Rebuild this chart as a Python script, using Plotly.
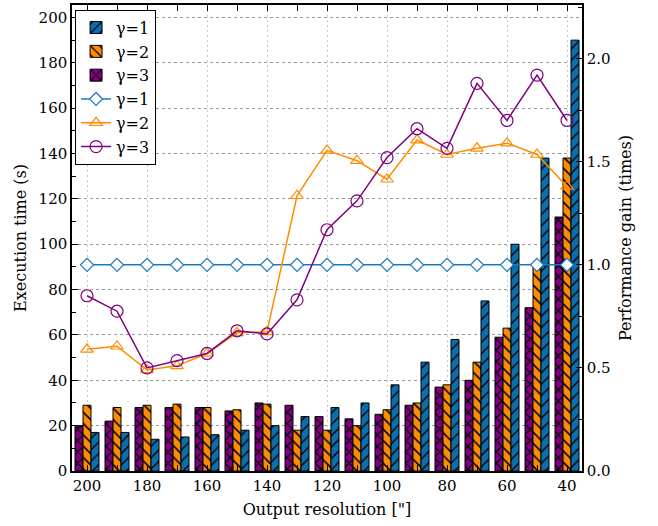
import plotly.graph_objects as go

# Output resolution categories (arcsec), left to right
resolutions = [200, 190, 180, 170, 160, 150, 140, 130, 120, 110, 100, 90, 80, 70, 60, 50, 40]

# Execution time (s)
time_g1 = [17, 17, 14, 15, 16, 18, 20, 24, 28, 30, 38, 48, 58, 75, 100, 138, 190]
time_g2 = [29, 28, 29, 29.5, 28, 27, 29.5, 18, 18, 20, 27, 30, 38, 48, 63, 90, 138]
time_g3 = [20, 22, 28, 28, 28, 26.5, 30, 29, 24, 23, 25, 29, 37, 40, 59, 72, 112]

# Performance gain (times)
gain_g1 = [1.0] * 17
gain_g2 = [0.59, 0.605, 0.49, 0.51, 0.57, 0.67, 0.675, 1.335, 1.555, 1.505, 1.415,
           1.605, 1.535, 1.565, 1.59, 1.535, 1.38]
gain_g3 = [0.85, 0.775, 0.50, 0.535, 0.57, 0.68, 0.665, 0.83, 1.17, 1.31, 1.52,
           1.66, 1.565, 1.88, 1.70, 1.92, 1.70]

BLUE = "#0b6fae"
ORANGE = "#ff8c00"
PURPLE = "#800080"
LINE_BLUE = "#1a7ac0"
FONT = "DejaVu Serif"

x = list(range(len(resolutions)))

fig = go.Figure()


def bar(vals, name, color, shape, rank, solidity):
    return go.Bar(
        x=x, y=vals, name=name, legendrank=rank,
        marker=dict(color=color, line=dict(color="black", width=1),
                    pattern=dict(shape=shape, fgcolor="black", bgcolor=color,
                                 fillmode="replace",
                                 size=8, solidity=solidity)),
        yaxis="y",
    )


# bars within a group: γ=3, γ=2, γ=1 from left to right
fig.add_trace(bar(time_g3, "γ=3", PURPLE, "x", 3, 0.28))
fig.add_trace(bar(time_g2, "γ=2", ORANGE, "\\", 2, 0.2))
fig.add_trace(bar(time_g1, "γ=1", BLUE, "/", 1, 0.18))

fig.add_trace(go.Scatter(
    x=x, y=gain_g1, name="γ=1", legendrank=4, yaxis="y2", mode="lines+markers",
    line=dict(color=LINE_BLUE, width=1.5),
    marker=dict(symbol="diamond", size=10, color="white",
                line=dict(color=LINE_BLUE, width=1.2)),
))
fig.add_trace(go.Scatter(
    x=x, y=gain_g2, name="γ=2", legendrank=5, yaxis="y2", mode="lines+markers",
    line=dict(color=ORANGE, width=1.5),
    marker=dict(symbol="triangle-up-open", size=11,
                line=dict(color=ORANGE, width=1.2)),
))
fig.add_trace(go.Scatter(
    x=x, y=gain_g3, name="γ=3", legendrank=6, yaxis="y2", mode="lines+markers",
    line=dict(color=PURPLE, width=1.5),
    marker=dict(symbol="circle-open", size=12,
                line=dict(color=PURPLE, width=1.2)),
))

major_idx = x[::2]
minor_idx = x[1::2]

fig.update_layout(
    template="none",
    width=658, height=526,
    margin=dict(l=72, r=76, t=5, b=55),
    paper_bgcolor="white", plot_bgcolor="white",
    font=dict(family=FONT, size=15, color="black"),
    barmode="group", bargap=0.2, bargroupgap=0,
    showlegend=True,
    legend=dict(x=0.006, y=0.99, xanchor="left", yanchor="top",
                bgcolor="white", bordercolor="black", borderwidth=1,
                font=dict(family=FONT, size=16), tracegroupgap=0,
                itemwidth=30),
    xaxis=dict(
        range=[-0.5, 16.5],
        tickmode="array", tickvals=major_idx,
        ticktext=[str(resolutions[i]) for i in major_idx],
        ticks="inside", ticklen=6, tickcolor="black",
        showline=True, linecolor="black", linewidth=1.5, mirror="ticks",
        showgrid=True, gridcolor="#c8c8c8", griddash="2px,3px", gridwidth=1,
        minor=dict(tickmode="array", tickvals=minor_idx, ticks="inside",
                   ticklen=6, tickcolor="black", showgrid=False),
        zeroline=False,
        title=dict(text="Output resolution [\"]", standoff=10,
                   font=dict(size=16)),
    ),
    yaxis=dict(
        range=[0, 205.5], dtick=20, tick0=0,
        ticks="inside", ticklen=6, tickcolor="black",
        showline=True, linecolor="black", linewidth=1.5,
        showgrid=True, gridcolor="#9a9a9a", griddash="3px,3px", gridwidth=1,
        minor=dict(dtick=10, ticks="inside", ticklen=4, tickcolor="black",
                   showgrid=False),
        zeroline=False,
        title=dict(text="Execution time (s)", standoff=8, font=dict(size=16)),
    ),
    yaxis2=dict(
        overlaying="y", side="right",
        range=[0, 2.26], dtick=0.5, tick0=0, tickformat=".1f",
        ticks="inside", ticklen=6, tickcolor="black",
        showline=True, linecolor="black", linewidth=1.5,
        showgrid=False, zeroline=False,
        minor=dict(dtick=0.25, ticks="inside", ticklen=4, tickcolor="black"),
        title=dict(text="Performance gain (times)", standoff=10,
                   font=dict(size=16)),
    ),
)

fig.write_html("out.html")
